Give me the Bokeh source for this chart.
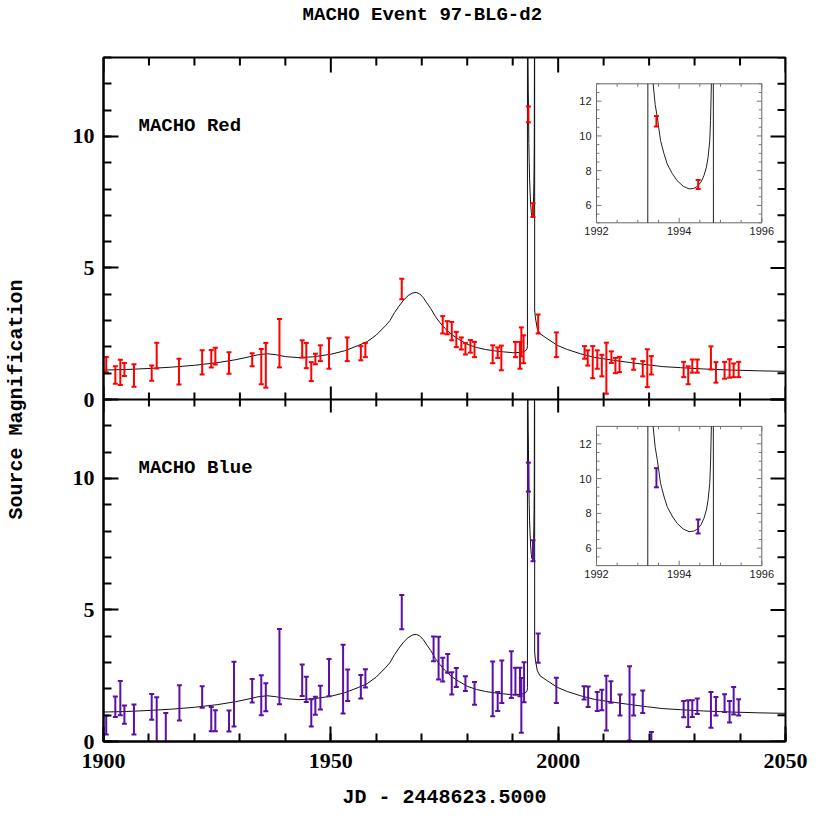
import numpy as np
from bokeh.plotting import figure
from bokeh.layouts import column
from bokeh.models import Range1d, LinearAxis, FixedTicker, Span, ColumnDataSource
from bokeh.core.properties import value
from bokeh.embed import file_html
from bokeh.resources import INLINE

# ---------------- data ----------------
red_x = [1900.6, 1902.6, 1903.7, 1904.6, 1906.7, 1910.6, 1911.7, 1916.6, 1921.7, 1923.7,
         1924.6, 1927.6, 1932.7, 1934.7, 1935.7, 1938.7, 1943.7, 1944.6, 1945.7, 1946.6,
         1947.7, 1949.6, 1953.6, 1956.6, 1957.6, 1965.6, 1974.6, 1975.6, 1976.6, 1977.6,
         1978.7, 1979.6, 1980.7, 1981.6, 1985.6, 1986.7, 1987.5, 1990.6, 1991.6, 1991.9,
         1992.4, 1993.45, 1994.46, 1995.6, 1999.6, 2005.8, 2006.5, 2007.6, 2008.6, 2009.6,
         2010.6, 2011.7, 2012.6, 2013.5, 2016.6, 2018.6, 2019.6, 2020.5, 2027.6, 2028.6,
         2029.5, 2030.6, 2033.6, 2034.7, 2036.6, 2037.7, 2038.6, 2039.7]
red_y = [1.33, 0.93, 1.03, 1.14, 0.91, 1.0, 1.67, 1.06, 1.41, 1.55,
         1.65, 1.39, 1.51, 1.25, 1.3, 2.14, 1.92, 1.67, 1.06, 1.54,
         1.76, 1.75, 1.91, 1.76, 1.88, 4.2, 2.84, 2.73, 2.6, 2.28,
         2.13, 1.93, 2.02, 1.9, 1.72, 1.78, 1.58, 1.9, 1.68, 2.19,
         1.91, 10.84, 7.2, 2.87, 2.08, 1.79, 1.58, 1.42, 1.52, 1.29,
         1.19, 1.61, 1.29, 1.33, 1.34, 1.17, 1.19, 1.3, 1.14, 0.92,
         1.27, 1.27, 1.58, 1.03, 1.11, 1.18, 1.11, 1.14]
red_e = [0.29, 0.33, 0.48, 0.25, 0.43, 0.29, 0.49, 0.49, 0.46, 0.33,
         0.32, 0.41, 0.25, 0.67, 0.85, 0.92, 0.33, 0.48, 0.36, 0.2,
         0.3, 0.58, 0.45, 0.27, 0.27, 0.39, 0.33, 0.25, 0.35, 0.29,
         0.23, 0.22, 0.24, 0.29, 0.34, 0.2, 0.47, 0.29, 0.51, 0.55,
         0.53, 0.3, 0.26, 0.36, 0.47, 0.24, 0.29, 0.61, 0.35, 0.41,
         0.97, 0.22, 0.29, 0.29, 0.21, 0.29, 0.72, 0.35, 0.29, 0.34,
         0.25, 0.25, 0.44, 0.39, 0.32, 0.35, 0.26, 0.29]

blue_x = [1900.6, 1902.6, 1903.7, 1904.6, 1906.7, 1910.6, 1911.7, 1913.7, 1916.7, 1921.7,
          1923.7, 1924.6, 1927.6, 1928.7, 1932.7, 1934.7, 1935.7, 1938.7, 1943.7, 1944.6,
          1945.7, 1946.6, 1947.7, 1949.6, 1952.7, 1953.7, 1956.6, 1957.6, 1965.6, 1972.6,
          1973.7, 1974.6, 1975.7, 1976.6, 1977.6, 1979.6, 1981.6, 1985.6, 1986.7, 1987.6,
          1989.7, 1990.6, 1991.6, 1991.9, 1992.5, 1993.45, 1994.46, 1995.6, 1999.6, 2005.7,
          2006.6, 2008.6, 2009.6, 2010.6, 2011.6, 2013.6, 2015.7, 2016.6, 2018.6, 2020.5,
          2027.6, 2028.6, 2029.5, 2030.6, 2033.6, 2034.7, 2036.6, 2037.7, 2038.6, 2039.7]
blue_y = [0.63, 1.32, 1.65, 1.02, 0.84, 1.32, 0.25, -0.1, 1.47, 1.69,
          0.85, 0.79, 0.78, 1.8, 1.93, 1.76, 1.68, 2.85, 2.33, 1.98,
          1.09, 1.36, 1.67, 2.43, 2.37, 2.14, 2.08, 2.4, 4.92, 3.52,
          3.17, 2.73, 2.97, 2.21, 2.43, 2.2, 1.83, 2.0, 1.52, 2.27,
          2.54, 2.29, 2.26, 1.37, 2.25, 10.05, 7.25, 3.55, 1.94, 1.85,
          1.7, 1.52, 1.58, 1.46, 1.88, 1.39, 1.45, 1.39, 1.51, 0.0,
          1.23, 1.06, 1.25, 1.34, 1.2, 1.34, 1.46, 1.13, 1.55, 1.3]
blue_e = [0.36, 0.39, 0.65, 0.35, 0.57, 0.49, 1.43, 1.18, 0.67, 0.41,
          0.46, 0.4, 0.4, 1.23, 0.45, 0.76, 0.53, 1.43, 0.6, 0.48,
          0.52, 0.34, 0.45, 0.71, 1.31, 0.6, 0.45, 0.35, 0.65, 0.47,
          0.81, 0.45, 0.36, 0.42, 0.36, 0.28, 0.43, 1.04, 0.36, 0.81,
          0.89, 0.51, 0.54, 1.04, 0.76, 0.55, 0.4, 0.56, 0.48, 0.25,
          0.39, 0.36, 0.39, 1.04, 0.41, 0.4, 1.41, 0.4, 0.43, 0.36,
          0.31, 0.51, 0.32, 0.29, 0.68, 0.35, 0.34, 0.41, 0.52, 0.31]

# binary-lens model curve (40 = off scale, caustic crossing)
model_jd = [1900, 1905, 1910, 1915, 1920, 1925, 1929, 1932, 1934, 1936,
            1938, 1940, 1943, 1946, 1950, 1953, 1956, 1958, 1960, 1962,
            1963, 1964, 1965, 1966, 1967, 1968, 1968.8, 1969.5, 1970.3, 1971,
            1972, 1973, 1974, 1975, 1976.5, 1978, 1980, 1982, 1984, 1986,
            1988, 1990, 1991.5, 1992.5, 1993.0, 1993.2, 1993.24, 1993.25, 1993.30, 1993.37,
            1993.42, 1993.47, 1993.55, 1993.63, 1993.71, 1993.83, 1993.95, 1994.10, 1994.24, 1994.35,
            1994.44, 1994.53, 1994.60, 1994.66, 1994.70, 1994.74, 1994.76, 1994.78, 1994.80, 1994.82,
            1994.83, 1995.0, 1995.4, 1996.0, 1997.6, 1999.8, 2002, 2004.9, 2008, 2012.2,
            2016, 2019.6, 2023, 2026.9, 2032, 2038, 2044, 2050]
model_mag = [1.12, 1.14, 1.18, 1.23, 1.30, 1.40, 1.51, 1.62, 1.70, 1.74,
             1.70, 1.63, 1.59, 1.62, 1.72, 1.85, 2.05, 2.2, 2.45, 2.8,
             3.0, 3.3, 3.55, 3.78, 3.95, 4.05, 4.07, 4.02, 3.88, 3.7,
             3.45, 3.15, 2.92, 2.72, 2.48, 2.3, 2.1, 1.98, 1.9, 1.85,
             1.81, 1.78, 1.79, 1.82, 1.88, 1.95, 2.05, 40, 20, 13,
             11.8, 11.1, 9.73, 9.0, 8.39, 7.85, 7.43, 7.1, 6.95, 6.98,
             7.09, 7.35, 7.72, 8.2, 8.77, 9.7, 10.9, 13, 40, 40,
             3.4, 3.1, 2.7, 2.5, 2.31, 2.06, 1.9, 1.74, 1.6, 1.49,
             1.4, 1.32, 1.25, 1.21, 1.16, 1.12, 1.09, 1.07]

x_major = [1900, 1950, 2000, 2050]
x_minor = list(range(1900, 2051, 10))
y_major = [0, 5, 10]
y_minor = list(range(0, 14))
inset_xmajor = [1992, 1994, 1996]
inset_ymajor = [6, 8, 10, 12]
inset_xlim = (1992, 1996)
inset_ylim = (5, 13)

TITLE = "MACHO Event 97-BLG-d2"
XLABEL = "JD - 2448623.5000"
YLABEL = "Source Magnification"
RED_LABEL = "MACHO Red"
BLUE_LABEL = "MACHO Blue"

# ---------------- layout ----------------
TH = 28                      # height of the title strip
BL, BR, BT, BB = 103, 30, 57 - TH, 75
FW, FH = 682, 684
W, H = BL + FW + BR, BT + FH + BB
XMIN, XMAX, YMAX = 1900, 2050, 13
RED, BLUE = "#ff0000", "#5a10a6"
MONO = "Liberation Mono"
SERIF = "Liberation Serif"
TICK_MAJOR, TICK_MINOR = 15, 8
TITLE_CX = 381               # title centre in the title strip

# inset boxes in frame pixels (left, right, top, bottom measured from frame top-left)
INSET_L, INSET_R = 493.0, 658.3
TOP_INSET_TB = (26.3, 165.3)
BOT_INSET_TB = (368.9, 508.1)


def inset_x_range():
    s = (INSET_R - INSET_L) / (inset_xlim[1] - inset_xlim[0])
    return Range1d(inset_xlim[0] - INSET_L / s, inset_xlim[1] + (FW - INSET_R) / s), s


def inset_y_range(tb):
    t, b = tb
    s = (b - t) / (inset_ylim[1] - inset_ylim[0])
    return Range1d(inset_ylim[0] - (FH - b) / s, inset_ylim[1] + t / s), s


def clip_seg(x0, y0, x1, y1, xmin, xmax, ymin, ymax):
    dx, dy = x1 - x0, y1 - y0
    t0, t1 = 0.0, 1.0
    for pp, q in ((-dx, x0 - xmin), (dx, xmax - x0), (-dy, y0 - ymin), (dy, ymax - y0)):
        if pp == 0:
            if q < 0:
                return None
        else:
            t = q / pp
            if pp < 0:
                if t > t1:
                    return None
                t0 = max(t0, t)
            else:
                if t < t0:
                    return None
                t1 = min(t1, t)
    return (x0 + t0 * dx, y0 + t0 * dy, x0 + t1 * dx, y0 + t1 * dy)


def clip_polyline(xs, ys, xmin, xmax, ymin, ymax):
    pieces_x, pieces_y = [], []
    cx, cy = [], []
    for i in range(len(xs) - 1):
        s = clip_seg(xs[i], ys[i], xs[i + 1], ys[i + 1], xmin, xmax, ymin, ymax)
        if s is None:
            if cx:
                pieces_x.append(cx); pieces_y.append(cy)
                cx, cy = [], []
            continue
        ax_, ay_, bx_, by_ = s
        if cx and abs(cx[-1] - ax_) < 1e-9 and abs(cy[-1] - ay_) < 1e-9:
            cx.append(bx_); cy.append(by_)
        else:
            if cx:
                pieces_x.append(cx); pieces_y.append(cy)
            cx, cy = [ax_, bx_], [ay_, by_]
    if cx:
        pieces_x.append(cx); pieces_y.append(cy)
    return pieces_x, pieces_y


# ---------------- title strip ----------------
pt = figure(width=W, height=TH, x_range=Range1d(0, W), y_range=Range1d(0, TH), title=None,
            output_backend="svg", toolbar_location=None, min_border=0,
            x_axis_location=None, y_axis_location=None)
pt.xgrid.visible = False
pt.ygrid.visible = False
pt.outline_line_color = None
pt.background_fill_color = "white"
pt.border_fill_color = "white"
pt.text(x=[TITLE_CX], y=[TH / 2], text=[TITLE], text_align="center", text_baseline="middle",
        text_font=value(MONO), text_font_style="bold", text_font_size="19px", text_color="black")

# ---------------- main chart ----------------
p = figure(width=W, height=H, x_range=Range1d(XMIN, XMAX), y_range=Range1d(-YMAX, YMAX),
           title=None, output_backend="svg", toolbar_location=None,
           min_border_left=BL, min_border_right=BR, min_border_top=BT, min_border_bottom=BB,
           x_axis_location=None, y_axis_location=None)
p.xgrid.visible = False
p.ygrid.visible = False
p.outline_line_color = "black"
p.outline_line_width = 2
p.background_fill_color = "white"
p.border_fill_color = "white"

ixr, sx_in = inset_x_range()
itr, sy_top = inset_y_range(TOP_INSET_TB)
ibr, sy_bot = inset_y_range(BOT_INSET_TB)
p.extra_x_ranges = {"ix": ixr}
p.extra_y_ranges = {"b": Range1d(0, 2 * YMAX), "it": itr, "ib": ibr}


def style_axis(ax):
    ax.axis_line_width = 2
    ax.axis_line_color = "black"
    ax.major_tick_in = TICK_MAJOR
    ax.major_tick_out = 0
    ax.minor_tick_in = TICK_MINOR
    ax.minor_tick_out = 0
    ax.major_tick_line_width = 2
    ax.minor_tick_line_width = 2
    ax.major_tick_line_color = "black"
    ax.minor_tick_line_color = "black"
    ax.major_label_text_font = SERIF
    ax.major_label_text_font_style = "bold"
    ax.major_label_text_font_size = "22px"
    ax.major_label_text_color = "black"
    ax.axis_label_text_font = MONO
    ax.axis_label_text_font_style = "bold"
    ax.axis_label_text_font_size = "20px"
    ax.axis_label_text_color = "black"


xt = FixedTicker(ticks=x_major, minor_ticks=x_minor)
ax_b = LinearAxis(ticker=xt, axis_label=XLABEL)
style_axis(ax_b)
ax_b.major_label_standoff = 12
ax_b.axis_label_standoff = 15
p.add_layout(ax_b, "below")

y_major_all = [t - YMAX for t in y_major] + y_major
y_minor_all = [t - YMAX for t in y_minor] + y_minor
overrides = {}
for t in y_major:
    overrides[t - YMAX] = str(t)
    overrides[t] = str(t)
yt = FixedTicker(ticks=y_major_all, minor_ticks=y_minor_all)
ax_l = LinearAxis(ticker=yt, axis_label=YLABEL, major_label_overrides=overrides)
style_axis(ax_l)
ax_l.major_label_standoff = 9
ax_l.axis_label_standoff = 42
p.add_layout(ax_l, "left")

# mirrored ticks on the top and right frame edges and along the panel boundary
# (dash markers centred on an edge; the frame clips the outer half)
top_src = ColumnDataSource(dict(x=x_minor, y=[YMAX] * len(x_minor),
                                s=[2 * (TICK_MAJOR if v in x_major else TICK_MINOR) for v in x_minor]))
p.scatter(x="x", y="y", size="s", marker="dash", angle=np.pi / 2, line_color="black",
          line_width=2, source=top_src)
right_src = ColumnDataSource(dict(x=[XMAX] * len(y_minor_all), y=y_minor_all,
                                  s=[2 * (TICK_MAJOR if v in y_major_all else TICK_MINOR)
                                     for v in y_minor_all]))
p.scatter(x="x", y="y", size="s", marker="dash", line_color="black", line_width=2,
          source=right_src)

p.add_layout(Span(location=0, dimension="width", line_color="black", line_width=2))
mid_src = ColumnDataSource(dict(x=x_minor, y=[0] * len(x_minor),
                                s=[26 if v in x_major else 14 for v in x_minor]))
p.scatter(x="x", y="y", size="s", marker="dash", angle=np.pi / 2, line_color="black",
          line_width=2, source=mid_src)

# model curves (main panels)
mx, my = clip_polyline(model_jd, model_mag, XMIN, XMAX, 0, YMAX)
p.multi_line(xs=mx, ys=my, line_color="#111111", line_width=1)
p.multi_line(xs=mx, ys=my, line_color="#111111", line_width=1, y_range_name="b")


def errbars(x, y, e, color, cap, xr="default", yr="default"):
    x = np.asarray(x, float); y = np.asarray(y, float); e = np.asarray(e, float)
    src = ColumnDataSource(dict(x=x, lo=y - e, hi=y + e))
    kw = dict(x_range_name=xr, y_range_name=yr, source=src)
    p.segment(x0="x", y0="lo", x1="x", y1="hi", line_color=color, line_width=2, **kw)
    p.scatter(x="x", y="lo", marker="dash", size=cap, line_color=color, line_width=2, **kw)
    p.scatter(x="x", y="hi", marker="dash", size=cap, line_color=color, line_width=2, **kw)


errbars(red_x, red_y, red_e, RED, 5)
errbars(blue_x, blue_y, blue_e, BLUE, 5, yr="b")

# panel labels
p.text(x=[1907.7], y=[10.4], text=[RED_LABEL], text_font=value(MONO), text_font_style="bold",
       text_font_size="19px", text_baseline="middle", text_align="left", text_color="black")
p.text(x=[1907.7], y=[10.4], text=[BLUE_LABEL], text_font=value(MONO), text_font_style="bold",
       text_font_size="19px", text_baseline="middle", text_align="left", text_color="black",
       y_range_name="b")


def draw_inset(yr, sy, px, py, pe, color):
    x0, x1 = inset_xlim
    y0, y1 = inset_ylim
    kw = dict(x_range_name="ix", y_range_name=yr)
    p.quad(left=[x0], right=[x1], bottom=[y0], top=[y1], fill_color="white",
           line_color="#666666", line_width=1, **kw)
    xs_all = list(np.arange(x0, x1 + 1e-9, 0.5))
    ys_all = list(np.arange(y0, y1 + 1e-9, 0.5))
    tx0, tx1, ty0, ty1 = [], [], [], []
    for v in xs_all:
        L = (5 if v in inset_xmajor else 3) / sy
        tx0 += [v, v]; tx1 += [v, v]; ty0 += [y0, y1]; ty1 += [y0 + L, y1 - L]
    for v in ys_all:
        L = (5 if v in inset_ymajor else 3) / sx_in
        tx0 += [x0, x1]; tx1 += [x0 + L, x1 - L]; ty0 += [v, v]; ty1 += [v, v]
    p.segment(x0=tx0, y0=ty0, x1=tx1, y1=ty1, line_color="#777777", line_width=1, **kw)
    p.text(x=inset_xmajor, y=[y0] * len(inset_xmajor), text=[str(v) for v in inset_xmajor],
           text_align="center", text_baseline="top", y_offset=4, text_font=value("Liberation Sans"),
           text_font_size="11px", text_color="#222222", **kw)
    p.text(x=[x0] * len(inset_ymajor), y=inset_ymajor, text=[str(v) for v in inset_ymajor],
           text_align="right", text_baseline="middle", x_offset=-5, text_font=value("Liberation Sans"),
           text_font_size="11px", text_color="#222222", **kw)
    cx, cy = clip_polyline(model_jd, model_mag, x0, x1, y0, y1)
    p.multi_line(xs=cx, ys=cy, line_color="#222222", line_width=1, **kw)
    sel = [i for i in range(len(px)) if x0 <= px[i] <= x1 and y0 <= py[i] - pe[i] and py[i] + pe[i] <= y1]
    errbars([px[i] for i in sel], [py[i] for i in sel], [pe[i] for i in sel], color, 5,
            xr="ix", yr=yr)


draw_inset("it", sy_top, red_x, red_y, red_e, RED)
draw_inset("ib", sy_bot, blue_x, blue_y, blue_e, BLUE)

layout = column(pt, p, spacing=0)
open("out.html", "w").write(file_html(layout, INLINE))
